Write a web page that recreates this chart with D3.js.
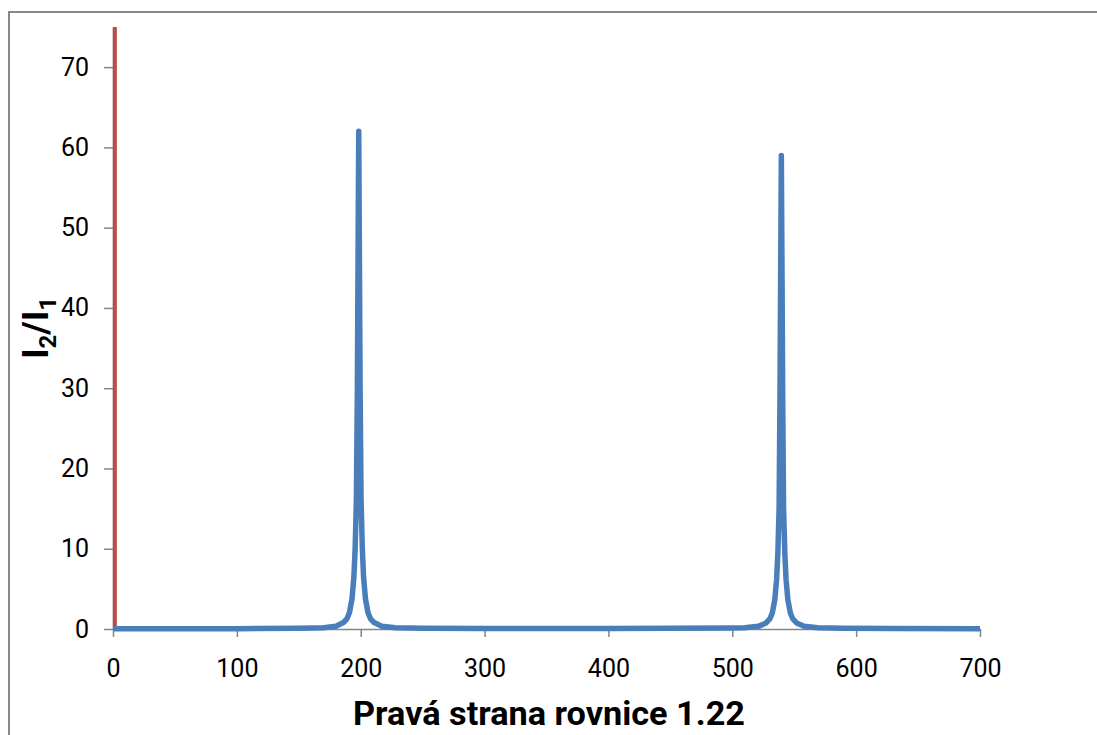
<!DOCTYPE html>
<html>
<head>
<meta charset="utf-8">
<script src="https://cdn.jsdelivr.net/npm/d3@7/dist/d3.min.js"></script>
<style>
  html, body { margin: 0; padding: 0; background: #fff; }
  svg { display: block; }
  .axis text { font-family: Roboto, "Open Sans", sans-serif; font-size: 25px; fill: #000; }
  .axis path, .axis line { stroke: #868686; stroke-width: 1.5; }
</style>
</head>
<body>
<div id="chart"></div>
<script>
// tick values
const x_ticks = [0, 100, 200, 300, 400, 500, 600, 700];
const y_ticks = [0, 10, 20, 30, 40, 50, 60, 70];

// blue series: I2/I1 vs right side of eq. 1.22
const ratio_x = [0, 100, 150, 170, 180, 186, 189, 191, 193, 194.5, 195.5, 196.5, 197.3, 197.8, 198.4,
  199.0, 199.5, 200.3, 201.3, 202.3, 203.8, 205.8, 207.8, 210.8, 217, 228, 250, 300, 350, 400, 450,
  500, 510, 521, 527.3, 530.3, 532.3, 534.3, 535.8, 536.8, 537.8, 538.5, 539.0, 539.6,
  540.2, 540.7, 541.4, 542.4, 543.4, 544.9, 546.9, 548.9, 551.9, 558, 569, 590, 630, 700];
const ratio_y = [0.03, 0.04, 0.08, 0.15, 0.35, 0.8, 1.3, 2.1, 3.8, 6.5, 10, 16, 30, 45, 62,
  45, 30, 16, 10, 6.5, 3.8, 2.1, 1.3, 0.8, 0.35, 0.15, 0.08, 0.05, 0.05, 0.06, 0.08,
  0.12, 0.15, 0.33, 0.75, 1.25, 2, 3.6, 6.2, 9.5, 15, 29, 43, 59,
  43, 29, 15, 9.5, 6.2, 3.6, 2, 1.25, 0.75, 0.33, 0.15, 0.08, 0.05, 0.04];

// red series: vertical marker near x = 0
const marker_x = [1.5, 1.5];
const marker_y = [0, 75];

const svg_width = 1097;
const svg_height = 735;
const margin = {top: 27, right: 117, bottom: 106, left: 113};
const chart_width = svg_width - margin.left - margin.right;
const chart_height = svg_height - margin.top - margin.bottom;

const svg = d3.select('#chart').append('svg')
  .attr('width', svg_width)
  .attr('height', svg_height);

// outer frame (extends past the right and bottom edges)
svg.append('rect')
  .attr('x', 9).attr('y', 12)
  .attr('width', svg_width + 20).attr('height', svg_height + 20)
  .style('fill', 'none')
  .style('stroke', '#898989')
  .style('stroke-width', 2);

const g = svg.append('g').attr('transform', `translate(${margin.left}, ${margin.top})`);

const x_scale = d3.scaleLinear().domain([0, 700]).range([0, chart_width]);
const y_scale = d3.scaleLinear().domain([0, 75]).range([chart_height, 0]);

// axes
const x_axis = d3.axisBottom(x_scale).tickValues(x_ticks).tickSizeInner(8).tickSizeOuter(0).tickPadding(22);
g.append('g').attr('class', 'x axis')
  .attr('transform', `translate(0, ${chart_height})`)
  .call(x_axis);

const y_axis = d3.axisLeft(y_scale).tickValues(y_ticks).tickSizeInner(9).tickSizeOuter(0).tickPadding(15);
g.append('g').attr('class', 'y axis')
  .call(y_axis);

// lines
const line_generator = d3.line()
  .x(d => x_scale(d[0]))
  .y(d => y_scale(d[1]));

const marker_data = marker_x.map((d, i) => [d, marker_y[i]]);
g.append('path')
  .attr('d', line_generator(marker_data))
  .style('fill', 'none')
  .style('stroke', '#BE4B48')
  .style('stroke-width', 4);

const ratio_data = ratio_x.map((d, i) => [d, ratio_y[i]]);
g.append('path')
  .attr('d', line_generator(ratio_data))
  .style('fill', 'none')
  .style('stroke', '#4A7EBB')
  .style('stroke-width', 5.5)
  .style('stroke-linejoin', 'round');

// axis titles
const x_title = svg.append('text')
  .attr('x', 549)
  .attr('y', 725)
  .style('text-anchor', 'middle')
  .style('font-family', 'Roboto, "Open Sans", sans-serif')
  .style('font-weight', 'bold')
  .style('font-size', '33px')
  .text('Pravá strana rovnice 1.22');
x_title.attr('textLength', 392).attr('lengthAdjust', 'spacingAndGlyphs');

const y_title = svg.append('text')
  .attr('transform', 'translate(48, 328) rotate(-90)')
  .style('text-anchor', 'middle')
  .style('font-family', 'Roboto, "Open Sans", sans-serif')
  .style('font-weight', 'bold')
  .style('font-size', '36px');
y_title.append('tspan').text('I');
y_title.append('tspan').text('2').attr('dy', 8).style('font-size', '24px');
y_title.append('tspan').text('/I').attr('dy', -8);
y_title.append('tspan').text('1').attr('dy', 8).style('font-size', '24px');
</script>
</body>
</html>
